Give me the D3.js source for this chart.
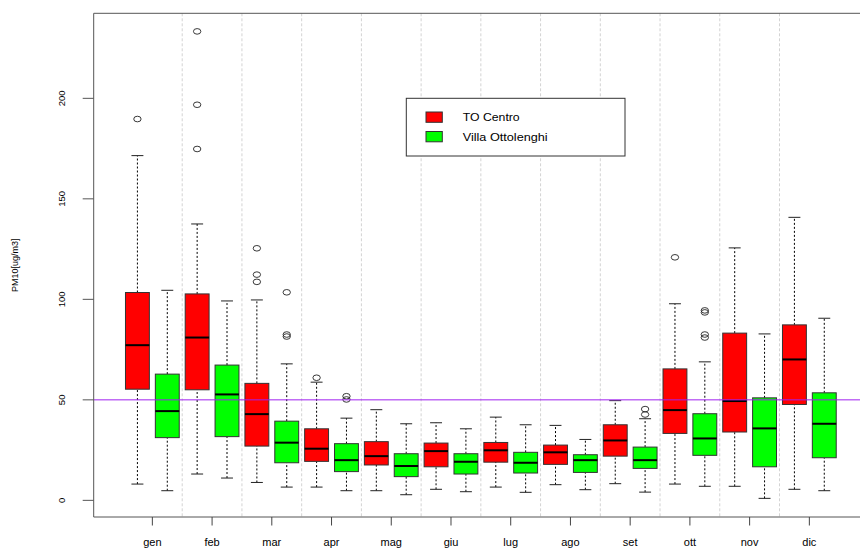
<!DOCTYPE html>
<html>
<head>
<meta charset="utf-8">
<script src="https://cdn.jsdelivr.net/npm/d3@7"></script>
<style>
  body { margin: 0; background: #fff; overflow: hidden; }
  svg { display: block; }
  text { font-family: "Liberation Sans", Arial, sans-serif; fill: #000; }
</style>
</head>
<body>
<div id="chart"></div>
<script>
// monthly PM10 boxplots, two stations side by side
var months = ["gen", "feb", "mar", "apr", "mag", "giu", "lug", "ago", "set", "ott", "nov", "dic"];
var stations = ["TO Centro", "Villa Ottolenghi"];
var stationColors = ["#ff0000", "#00ff00"];
var limitValue = 50;
var yTicks = [0, 50, 100, 150, 200];

// [lower whisker, q1, median, q3, upper whisker]
var centroStats = [
  [8.1, 55.3, 77.2, 103.4, 171.5],
  [13.1, 55.0, 81.0, 102.7, 137.5],
  [8.9, 27.0, 42.9, 58.2, 99.7],
  [6.6, 19.4, 25.7, 35.6, 58.8],
  [4.8, 17.6, 22.0, 29.2, 45.1],
  [5.5, 16.7, 24.5, 28.5, 38.6],
  [6.6, 19.0, 24.9, 28.8, 41.4],
  [7.8, 17.9, 23.9, 27.5, 37.3],
  [8.3, 22.0, 29.8, 37.6, 49.6],
  [8.1, 33.3, 44.9, 65.4, 97.8],
  [7.0, 34.0, 49.4, 83.2, 125.6],
  [5.5, 47.7, 70.1, 87.3, 140.8]
];
var ottoStats = [
  [4.8, 31.2, 44.4, 62.8, 104.5],
  [11.1, 31.7, 52.7, 67.3, 99.2],
  [6.6, 18.7, 28.7, 39.4, 67.9],
  [4.8, 14.3, 20.0, 28.2, 40.9],
  [2.8, 11.8, 17.1, 23.2, 38.1],
  [4.3, 13.1, 19.2, 23.2, 35.6],
  [4.0, 13.6, 18.7, 23.9, 37.6],
  [5.3, 13.9, 20.0, 22.7, 30.3],
  [4.1, 15.9, 20.0, 26.5, 40.6],
  [7.0, 22.4, 30.8, 43.1, 68.9],
  [1.0, 16.7, 35.8, 51.0, 82.8],
  [4.8, 21.2, 38.1, 53.5, 90.6]
];
var centroOutliers = [[189.7], [233.3, 196.8, 174.8], [125.4, 112.3, 108.7], [61.0], [], [], [], [], [], [120.9], [], []];
var ottoOutliers = [[], [], [103.5, 82.5, 81.5], [51.8, 50.2], [], [], [], [], [45.4, 42.7], [94.5, 93.5, 82.5, 81.0], [], []];

var width = 860, height = 548,
    plotLeft = 93.7, plotTop = 13.3, plotBottom = 517, plotRight = 868;

var svg = d3.select("#chart").append("svg")
    .attr("width", width)
    .attr("height", height);

// box positions 1..24 like R boxplot(at=...)
var x = d3.scaleLinear().domain([-0.464, 25.464]).range([plotLeft, plotRight]);
var y = d3.scaleLinear().domain([-8.28, 242.3]).range([plotBottom, plotTop]);
var boxW = x(0.8) - x(0);

var boxes = [];
months.forEach(function(m, i) {
  boxes.push({pos: 2 * i + 1, s: centroStats[i], out: centroOutliers[i], color: stationColors[0]});
  boxes.push({pos: 2 * i + 2, s: ottoStats[i], out: ottoOutliers[i], color: stationColors[1]});
});

// dotted separators between months
svg.selectAll(".sep")
  .data(d3.range(1, months.length))
  .enter().append("line")
    .attr("x1", function(d) { return x(2 * d + 0.5); })
    .attr("x2", function(d) { return x(2 * d + 0.5); })
    .attr("y1", plotTop).attr("y2", plotBottom)
    .attr("stroke", "#d3d3d3")
    .attr("stroke-dasharray", "3,2");

var g = svg.selectAll(".box")
  .data(boxes)
  .enter().append("g")
    .attr("class", "box");

// whiskers
g.append("line")
  .attr("x1", function(d) { return x(d.pos); }).attr("x2", function(d) { return x(d.pos); })
  .attr("y1", function(d) { return y(d.s[0]); }).attr("y2", function(d) { return y(d.s[1]); })
  .attr("stroke", "#000").attr("stroke-dasharray", "2,2");
g.append("line")
  .attr("x1", function(d) { return x(d.pos); }).attr("x2", function(d) { return x(d.pos); })
  .attr("y1", function(d) { return y(d.s[3]); }).attr("y2", function(d) { return y(d.s[4]); })
  .attr("stroke", "#000").attr("stroke-dasharray", "2,2");

// staples
[0, 4].forEach(function(k) {
  g.append("line")
    .attr("x1", function(d) { return x(d.pos) - boxW / 4; })
    .attr("x2", function(d) { return x(d.pos) + boxW / 4; })
    .attr("y1", function(d) { return y(d.s[k]); })
    .attr("y2", function(d) { return y(d.s[k]); })
    .attr("stroke", "#222");
});

g.append("rect")
  .attr("x", function(d) { return x(d.pos) - boxW / 2; })
  .attr("width", boxW)
  .attr("y", function(d) { return y(d.s[3]); })
  .attr("height", function(d) { return y(d.s[1]) - y(d.s[3]); })
  .attr("fill", function(d) { return d.color; })
  .attr("stroke", "#333");

g.append("line")
  .attr("x1", function(d) { return x(d.pos) - boxW / 2; })
  .attr("x2", function(d) { return x(d.pos) + boxW / 2; })
  .attr("y1", function(d) { return y(d.s[2]); })
  .attr("y2", function(d) { return y(d.s[2]); })
  .attr("stroke", "#000").attr("stroke-width", 2);

g.selectAll(".out")
  .data(function(d) { return d.out.map(function(v) { return {pos: d.pos, v: v}; }); })
  .enter().append("ellipse")
    .attr("cx", function(d) { return x(d.pos); })
    .attr("cy", function(d) { return y(d.v); })
    .attr("rx", 3.7).attr("ry", 2.8)
    .attr("fill", "none").attr("stroke", "#222").attr("stroke-width", 0.9);

// limit line
svg.append("line")
  .attr("x1", plotLeft).attr("x2", width)
  .attr("y1", y(limitValue)).attr("y2", y(limitValue))
  .attr("stroke", "#a020f0").attr("stroke-width", 1);

// frame
svg.append("path")
  .attr("d", "M" + width + "," + plotTop + "H" + plotLeft + "V" + plotBottom + "H" + width)
  .attr("fill", "none").attr("stroke", "#555");

// y axis
svg.selectAll(".ytick")
  .data(yTicks)
  .enter().append("line")
    .attr("x1", plotLeft - 11).attr("x2", plotLeft)
    .attr("y1", function(d) { return y(d); }).attr("y2", function(d) { return y(d); })
    .attr("stroke", "#555");
svg.selectAll(".ylab")
  .data(yTicks)
  .enter().append("text")
    .attr("transform", function(d) { return "translate(65," + y(d) + ") rotate(-90)"; })
    .attr("text-anchor", "middle")
    .style("font-size", "9.5px")
    .text(function(d) { return d; });
svg.append("text")
  .attr("transform", "translate(18," + (plotTop + plotBottom) / 2 + ") rotate(-90)")
  .attr("text-anchor", "middle")
  .style("font-size", "9px")
  .text("PM10[ug/m3]");

// x axis
svg.selectAll(".xtick")
  .data(months)
  .enter().append("line")
    .attr("x1", function(d, i) { return x(2 * i + 1.5); })
    .attr("x2", function(d, i) { return x(2 * i + 1.5); })
    .attr("y1", plotBottom).attr("y2", plotBottom + 8.5)
    .attr("stroke", "#444");
svg.selectAll(".xlab")
  .data(months)
  .enter().append("text")
    .attr("x", function(d, i) { return x(2 * i + 1.5); })
    .attr("y", 546)
    .attr("text-anchor", "middle")
    .style("font-size", "11px")
    .text(function(d) { return d; });

// legend
var legend = svg.append("g");
legend.append("rect")
  .attr("x", 406.3).attr("y", 98.3).attr("width", 218.7).attr("height", 57.7)
  .attr("fill", "#fff").attr("stroke", "#333");
stations.forEach(function(name, i) {
  legend.append("rect")
    .attr("x", 426).attr("y", 112 + i * 19.5).attr("width", 16.3).attr("height", 10.3)
    .attr("fill", stationColors[i]).attr("stroke", "#333");
  legend.append("text")
    .attr("x", 462.7).attr("y", 121 + i * 19.5)
    .attr("textLength", i === 0 ? 57 : 85)
    .attr("lengthAdjust", "spacingAndGlyphs")
    .style("font-size", "10.5px")
    .text(name);
});
</script>
</body>
</html>
